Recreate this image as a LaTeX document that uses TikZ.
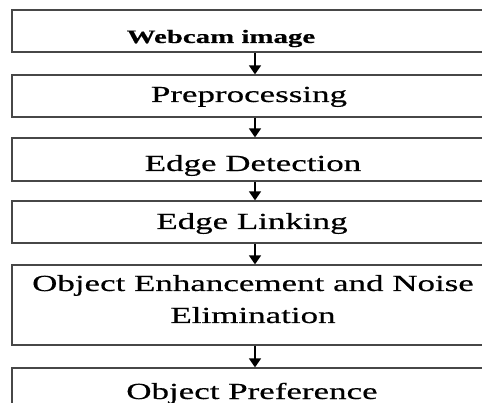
\documentclass[tikz,border=0pt]{standalone}
\usepackage{fontspec}
\setmainfont{Liberation Serif}[FakeStretch=1.52, FakeBold=0.5]
\usetikzlibrary{arrows.meta,positioning}

\begin{document}
\begin{tikzpicture}[x=1pt, y=-1pt,
    stagebox/.style={rectangle, draw=black!72, line width=1.3pt, fill=white, minimum width=486pt, minimum height=#1, inner sep=0pt},
    stagetxt/.style={font=\fontsize{23}{32}\selectfont, text=black, align=center, inner sep=0pt, anchor=base},
    flowarr/.style={-{Triangle[width=12pt,length=9pt]}, line width=1.6pt, draw=black}
]
\useasboundingbox (0,0) rectangle (482,403);
\clip (0,0) rectangle (482,403);

% Stage boxes
\node[stagebox=42pt] (webcam) at (255,31) {};
\node[stagebox=42pt] (prep) at (255,96) {};
\node[stagebox=43pt] (edgedet) at (255,159.5) {};
\node[stagebox=42pt] (edgelink) at (255,222) {};
\node[stagebox=80pt] (enhance) at (255,305) {};
\node[stagebox=42pt] (pref) at (255,389) {};

% Stage labels
\node[stagetxt, font=\fontsize{19}{24}\selectfont\bfseries] at (221,43) {Webcam image};
\node[stagetxt] at (249,102) {Preprocessing};
\node[stagetxt] at (253,171) {Edge Detection};
\node[stagetxt] at (252,229) {Edge Linking};
\node[stagetxt] at (253,323) {Object Enhancement and Noise\\Elimination};
\node[stagetxt] at (252,399) {Object Preference};

% Flow
\draw[flowarr] (webcam) -- (prep);
\draw[flowarr] (prep) -- (edgedet);
\draw[flowarr] (edgedet) -- (edgelink);
\draw[flowarr] (edgelink) -- (enhance);
\draw[flowarr] (enhance) -- (pref);
\end{tikzpicture}
\end{document}
